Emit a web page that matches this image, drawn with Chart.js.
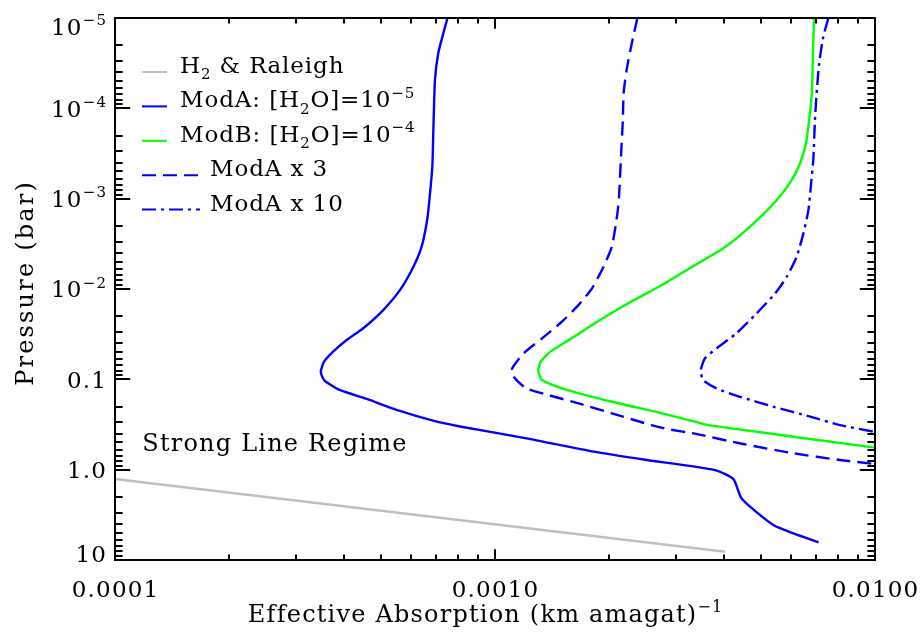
<!DOCTYPE html>
<html>
<head>
<meta charset="utf-8">
<script src="https://cdn.jsdelivr.net/npm/chart.js@4.4.1/dist/chart.umd.min.js"></script>
<style>
  html, body { margin: 0; padding: 0; background: #ffffff; }
  canvas { display: block; }
</style>
</head>
<body>
<canvas id="chart" width="920" height="635"></canvas>
<script>
// Effective absorption (km amagat)^-1 against pressure (bar), log-log, pressure increasing downward.

// H2 collision-induced + Rayleigh
const h2RaleighAbs = [1.0e-4, 4.03e-3];
const h2RaleighP   = [1.27, 8.09];

// ModA: [H2O] = 1e-5
const modAAbs = [7.50e-4, 7.31e-4, 7.09e-4, 6.95e-4, 6.88e-4, 6.84e-4, 6.72e-4, 6.63e-4, 6.41e-4,
                 6.10e-4, 5.62e-4, 5.08e-4, 4.50e-4, 4.07e-4, 3.75e-4, 3.55e-4, 3.48e-4, 3.55e-4, 3.87e-4,
                 4.60e-4, 5.62e-4, 6.87e-4, 8.09e-4, 1.21e-3, 1.82e-3, 2.51e-3, 3.79e-3, 4.24e-3, 4.43e-3,
                 4.69e-3, 5.40e-3, 6.10e-3, 7.10e-3];
const modAP   = [1.0e-5, 1.48e-5, 2.46e-5, 4.85e-5, 1.87e-4, 4.46e-4, 1.03e-3, 1.72e-3, 3.40e-3,
                 5.66e-3, 1.03e-2, 1.71e-2, 2.72e-2, 3.67e-2, 4.94e-2, 6.38e-2, 8.24e-2, 0.102, 0.129,
                 0.165, 0.224, 0.287, 0.333, 0.450, 0.632, 0.782, 1.01, 1.27, 2.0,
                 2.57, 4.10, 5.07, 6.37];

// ModB: [H2O] = 1e-4
const modBAbs = [6.91e-3, 6.86e-3, 6.82e-3, 6.71e-3, 6.58e-3, 6.35e-3, 6.04e-3, 5.51e-3, 4.69e-3, 3.99e-3,
                 3.36e-3, 2.75e-3, 2.16e-3, 1.83e-3, 1.59e-3, 1.40e-3, 1.32e-3, 1.30e-3, 1.33e-3, 1.53e-3,
                 2.03e-3, 2.64e-3, 3.36e-3, 3.64e-3, 1.0e-2];
const modBP   = [1.0e-5, 2.92e-5, 6.82e-5, 1.35e-4, 2.44e-4, 4.06e-4, 6.21e-4, 1.04e-3, 2.04e-3, 3.54e-3,
                 5.43e-3, 9.03e-3, 1.57e-2, 2.40e-2, 3.52e-2, 4.94e-2, 6.38e-2, 8.04e-2, 0.102, 0.129,
                 0.177, 0.228, 0.294, 0.321, 0.571];

// ModA x 3
const modA3Abs = [2.37e-3, 2.29e-3, 2.22e-3, 2.18e-3, 2.17e-3, 2.15e-3, 2.12e-3, 2.10e-3, 2.03e-3, 1.93e-3,
                  1.80e-3, 1.66e-3, 1.50e-3, 1.33e-3, 1.19e-3, 1.11e-3, 1.12e-3, 1.21e-3, 1.38e-3, 1.66e-3,
                  2.03e-3, 2.58e-3, 2.86e-3, 3.33e-3, 4.50e-3, 6.10e-3, 8.09e-3, 1.0e-2];
const modA3P   = [1.0e-5, 1.91e-5, 3.76e-5, 6.82e-5, 1.35e-4, 2.89e-4, 9.51e-4, 1.45e-3, 3.40e-3, 5.66e-3,
                  9.83e-3, 1.50e-2, 2.30e-2, 3.52e-2, 5.15e-2, 7.55e-2, 9.35e-2, 0.126, 0.149, 0.185,
                  0.238, 0.321, 0.357, 0.397, 0.520, 0.659, 0.782, 0.866];

// ModA x 10
const modA10Abs = [7.54e-3, 7.31e-3, 7.13e-3, 7.02e-3, 6.95e-3, 6.88e-3, 6.79e-3, 6.68e-3, 6.48e-3, 6.22e-3,
                   5.86e-3, 5.46e-3, 4.88e-3, 4.32e-3, 3.83e-3, 3.57e-3, 3.48e-3, 3.53e-3, 3.83e-3, 4.41e-3,
                   5.40e-3, 6.75e-3, 8.09e-3, 1.0e-2];
const modA10P   = [1.0e-5, 1.61e-5, 3.17e-5, 6.82e-5, 1.35e-4, 3.73e-4, 6.76e-4, 1.34e-3, 2.42e-3, 4.39e-3,
                   7.31e-3, 1.12e-2, 1.86e-2, 3.09e-2, 4.54e-2, 5.85e-2, 7.89e-2, 0.102, 0.126, 0.156,
                   0.201, 0.259, 0.321, 0.382];

// Axis ranges and tick labels
const xRange = [1e-4, 1e-2];
const yRange = [1e-5, 10];
const xTickValues = [1e-4, 1e-3, 1e-2];
const xTickLabels = ['0.0001', '0.0010', '0.0100'];
const yTickValues = [1e-5, 1e-4, 1e-3, 1e-2, 0.1, 1, 10];
const yTickLabels = [
  [['10'], ['\u22125', 'sup']],
  [['10'], ['\u22124', 'sup']],
  [['10'], ['\u22123', 'sup']],
  [['10'], ['\u22122', 'sup']],
  [['0.1']],
  [['1.0']],
  [['10']]
];

// Legend entries (rich text segments) and titles
const legendLabels = [
  [['H'], ['2', 'sub'], [' & Raleigh']],
  [['ModA: [H'], ['2', 'sub'], ['O]=10'], ['\u22125', 'sup']],
  [['ModB: [H'], ['2', 'sub'], ['O]=10'], ['\u22124', 'sup']],
  [['ModA x 3']],
  [['ModA x 10']]
];
const xTitle = [['Effective Absorption (km amagat)'], ['\u22121', 'sup']];
const yTitle = 'Pressure (bar)';
const regimeLabel = 'Strong Line Regime';
const regimeAt = { x: 1.18e-4, y: 0.62 };

const BLUE = '#0000ff';
const GREEN = '#00ff00';
const GREY = '#bebebe';
const FONT_FAMILY = '"DejaVu Serif", serif';
const TICK_SIZE = 23;
const LABEL_SIZE = 23;
const TITLE_SIZE = 24;

const pairs = (xs, ys) => xs.map((v, i) => ({ x: v, y: ys[i] }));

// ---- text helpers (per-character spacing, sub/superscripts) ----
function segFont(size, kind) {
  return (kind ? Math.round(size * 0.65) : size) + 'px ' + FONT_FAMILY;
}
function richWidth(ctx, segs, size, spacing) {
  let w = 0;
  for (const [t, kind] of segs) {
    ctx.font = segFont(size, kind);
    for (const ch of t) w += ctx.measureText(ch).width + spacing;
  }
  return w - spacing;
}
function drawRich(ctx, segs, x, y, size, spacing, align) {
  const total = richWidth(ctx, segs, size, spacing);
  let cx = align === 'right' ? x - total : align === 'center' ? x - total / 2 : x;
  ctx.textAlign = 'left';
  ctx.textBaseline = 'alphabetic';
  for (const [t, kind] of segs) {
    ctx.font = segFont(size, kind);
    const dy = kind === 'sub' ? size * 0.28 : kind === 'sup' ? -size * 0.42 : 0;
    for (const ch of t) {
      ctx.fillText(ch, cx, y + dy);
      cx += ctx.measureText(ch).width + spacing;
    }
  }
  return total;
}

function logTicks(min, max) {
  const out = [];
  for (let e = Math.floor(Math.log10(min)); e <= Math.ceil(Math.log10(max)); e++) {
    for (let k = 1; k <= 9; k++) {
      const v = k * Math.pow(10, e);
      if (v >= min * 0.999 && v <= max * 1.001) out.push({ value: v, major: k === 1 });
    }
  }
  return out;
}

// Draws the boxed frame with inward ticks on all sides, tick labels, titles, legend and the annotation.
const framePlugin = {
  id: 'idlFrame',
  afterDatasetsDraw(chart) {
    const { ctx, chartArea: a, scales } = chart;
    const xs = scales.x, ys = scales.y;
    ctx.save();
    ctx.strokeStyle = '#000';
    ctx.fillStyle = '#000';
    ctx.lineWidth = 2;
    ctx.setLineDash([]);
    ctx.strokeRect(a.left, a.top, a.right - a.left, a.bottom - a.top);

    const xLen = (a.bottom - a.top) * 0.02;
    const yLen = (a.right - a.left) * 0.02;
    ctx.beginPath();
    for (const t of logTicks(xRange[0], xRange[1])) {
      const px = Math.round(xs.getPixelForValue(t.value));
      const len = t.major ? xLen : xLen / 2;
      ctx.moveTo(px, a.bottom); ctx.lineTo(px, a.bottom - len);
      ctx.moveTo(px, a.top); ctx.lineTo(px, a.top + len);
    }
    for (const t of logTicks(yRange[0], yRange[1])) {
      const py = Math.round(ys.getPixelForValue(t.value));
      const len = t.major ? yLen : yLen / 2;
      ctx.moveTo(a.left, py); ctx.lineTo(a.left + len, py);
      ctx.moveTo(a.right, py); ctx.lineTo(a.right - len, py);
    }
    ctx.stroke();

    // tick labels
    const capH = TICK_SIZE * 0.73;
    xTickValues.forEach((v, i) => {
      drawRich(ctx, [[xTickLabels[i]]], xs.getPixelForValue(v), a.bottom + 37, TICK_SIZE, 1.2, 'center');
    });
    yTickValues.forEach((v, i) => {
      let base = ys.getPixelForValue(v) + capH / 2;
      base = Math.min(Math.max(base, a.top + capH), a.bottom + 2);
      drawRich(ctx, yTickLabels[i], a.left - 9, base, TICK_SIZE, 1.2, 'right');
    });

    // axis titles
    const xw = richWidth(ctx, xTitle, TITLE_SIZE, 1.2);
    drawRich(ctx, xTitle, (a.left + a.right) / 2 - 10 - xw / 2, a.bottom + 62, TITLE_SIZE, 1.2, 'left');
    ctx.save();
    ctx.translate(33, (a.top + a.bottom) / 2 - 5);
    ctx.rotate(-Math.PI / 2);
    drawRich(ctx, [[yTitle]], 0, 0, TITLE_SIZE, 2.2, 'center');
    ctx.restore();

    // annotation
    drawRich(ctx, [[regimeLabel]], xs.getPixelForValue(regimeAt.x), ys.getPixelForValue(regimeAt.y),
             TITLE_SIZE, 1.2, 'left');

    // legend
    const dsets = chart.data.datasets;
    legendLabels.forEach((segs, i) => {
      const ds = dsets[i];
      const base = a.top + 55 + i * 34.4;
      const dashed = ds.borderDash && ds.borderDash.length;
      const x0 = a.left + 27;
      const x1 = dashed ? a.left + 85 : a.left + 52;
      ctx.save();
      ctx.strokeStyle = ds.borderColor;
      ctx.lineWidth = 2;
      ctx.setLineDash(dashed ? ds.borderDash : []);
      ctx.beginPath();
      ctx.moveTo(x0, base - 1);
      ctx.lineTo(x1, base - 1);
      ctx.stroke();
      ctx.restore();
      drawRich(ctx, segs, dashed ? a.left + 95 : a.left + 65, base, LABEL_SIZE, 0.9, 'left');
    });
    ctx.restore();
  }
};

const lineStyle = { borderWidth: 2.4, pointRadius: 0, tension: 0.2, fill: false, clip: 0,
                    borderJoinStyle: 'round', borderCapStyle: 'butt' };

new Chart(document.getElementById('chart'), {
  type: 'line',
  data: {
    datasets: [
      { ...lineStyle, tension: 0, label: 'H2 & Raleigh', data: pairs(h2RaleighAbs, h2RaleighP), borderColor: GREY },
      { ...lineStyle, label: 'ModA', data: pairs(modAAbs, modAP), borderColor: BLUE },
      { ...lineStyle, label: 'ModB', data: pairs(modBAbs, modBP), borderColor: GREEN },
      { ...lineStyle, label: 'ModA x 3', data: pairs(modA3Abs, modA3P), borderColor: BLUE, borderDash: [14, 7] },
      { ...lineStyle, label: 'ModA x 10', data: pairs(modA10Abs, modA10P), borderColor: BLUE, borderDash: [14, 5, 3, 5] }
    ]
  },
  options: {
    responsive: false,
    devicePixelRatio: 1,
    animation: false,
    layout: { padding: { left: 115, right: 45, top: 18, bottom: 75 } },
    scales: {
      x: { type: 'logarithmic', min: xRange[0], max: xRange[1], display: false },
      y: { type: 'logarithmic', min: yRange[0], max: yRange[1], reverse: true, display: false }
    },
    plugins: { legend: { display: false }, tooltip: { enabled: false } }
  },
  plugins: [framePlugin]
});
</script>
</body>
</html>
